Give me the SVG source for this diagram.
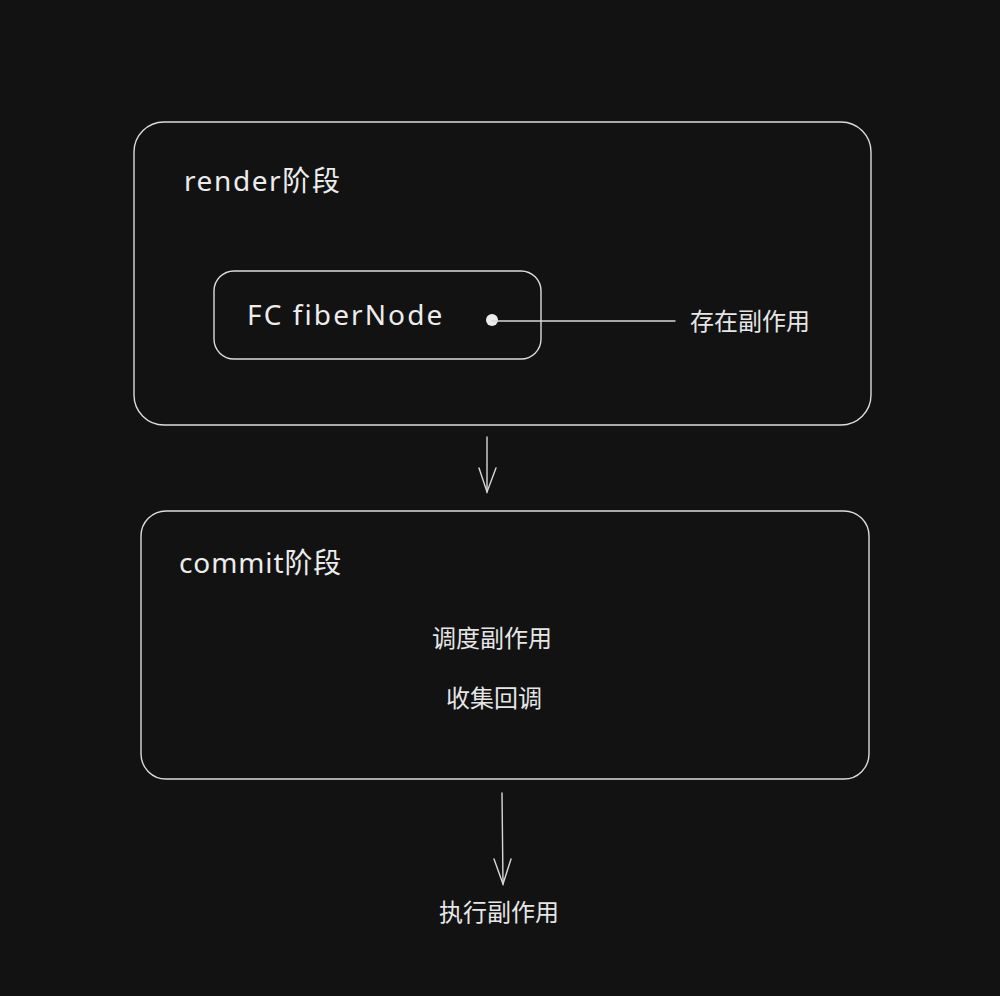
<svg xmlns="http://www.w3.org/2000/svg" width="1000" height="996" viewBox="0 0 1000 996">
<style>
.box{fill:none;stroke:#dcdcdc;stroke-width:1.4}
.hand{font-family:"Noto Sans","Noto Sans CJK SC",sans-serif;fill:#ececec;font-size:28px;letter-spacing:1.6px}
.cjk{font-family:"Noto Sans CJK SC","Noto Sans",sans-serif;fill:#e6e6e6;font-size:24px}
.line{fill:none;stroke:#d8d8d8;stroke-width:1.4;stroke-linecap:round}
</style>
<rect width="1000" height="996" fill="#121212"/>
<g id="render-stage">
<rect class="box" x="134" y="122" width="737" height="303" rx="30"/>
<text class="hand" x="184" y="191">render阶段</text>
</g>
<g id="fc-fibernode">
<rect class="box" x="214" y="271" width="327" height="88" rx="20"/>
<text class="hand" x="247" y="325" style="letter-spacing:2.1px">FC fiberNode</text>
</g>
<g id="side-effect-label">
<text class="cjk" x="690" y="330">存在副作用</text>
</g>
<g id="commit-stage">
<rect class="box" x="141" y="511" width="728" height="268" rx="25"/>
<text class="hand" x="179" y="573" style="letter-spacing:0.9px">commit阶段</text>
<text class="cjk" x="492" y="647" text-anchor="middle">调度副作用</text>
<text class="cjk" x="494" y="707" text-anchor="middle">收集回调</text>
</g>
<g id="execute-label">
<text class="cjk" x="499" y="921" text-anchor="middle">执行副作用</text>
</g>
<g id="connectors">
<circle cx="492" cy="320" r="6" fill="#ececec"/>
<line class="line" x1="492" y1="321" x2="675" y2="321"/>
<line class="line" x1="487" y1="437" x2="487" y2="492"/>
<polyline class="line" points="479,468 487,492 496,468"/>
<line class="line" x1="502" y1="793" x2="503" y2="884"/>
<polyline class="line" points="494,859 503,884 511,859"/>
</g>
</svg>
